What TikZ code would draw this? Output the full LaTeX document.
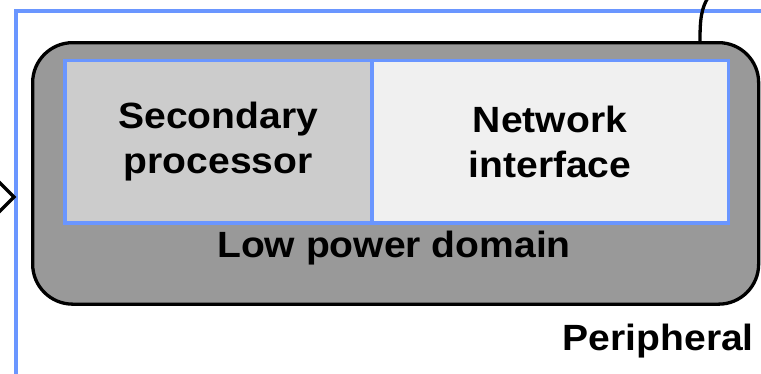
\documentclass[tikz,border=0pt]{standalone}
\usepackage{fontspec}
\setmainfont{Liberation Sans}[FakeStretch=1.07]
\usepackage{tikz}

\definecolor{perblue}{RGB}{106,150,255}
\definecolor{lpgray}{RGB}{153,153,153}
\definecolor{secgray}{RGB}{204,204,204}
\definecolor{netgray}{RGB}{240,240,240}

\tikzset{
  perbox/.style={draw=perblue, line width=4pt, inner sep=0pt, anchor=north west},
  lpbox/.style={draw=black, fill=lpgray, line width=3.3pt, rounded corners=40pt, inner sep=0pt, anchor=north west},
  unitbox/.style={draw=perblue, line width=3.5pt, inner sep=0pt, anchor=north west, align=center},
  lbl/.style={inner sep=0pt, font=\fontsize{36.5}{45}\selectfont\bfseries}
}

\begin{document}
\begin{tikzpicture}[x=1pt,y=-1pt]
\useasboundingbox (0,0) rectangle (761,373);
\clip (0,0) rectangle (761,373);
\node [perbox, minimum width=800pt, minimum height=420pt] (periph) at (14,9) {};
\node [lpbox, minimum width=726pt, minimum height=261.5pt] (lowpower) at (31,41) {};
\node [unitbox, lbl, fill=secgray, minimum width=307pt, minimum height=162.5pt] (secproc) at (63,58.5) {Secondary\\processor};
\node [unitbox, lbl, fill=netgray, minimum width=356.5pt, minimum height=162.5pt] (netif) at (370,58.5) {Network\\interface};
\node [lbl, anchor=base] (lplabel) at (394,257) {Low power domain};
\node [lbl, anchor=base east] (perlabel) at (754,350) {Peripheral};
\coordinate (intip) at (14,197);
\coordinate (wireend) at (709,-4);
\draw [black, line width=3.3pt, miter limit=10] (intip) ++(-17,-17) -- (intip) -- ++(-17,17);
\draw [black, line width=3.3pt] (700,0 |- lowpower.north) .. controls (700,20) and (701,8) .. (wireend);
\end{tikzpicture}
\end{document}
